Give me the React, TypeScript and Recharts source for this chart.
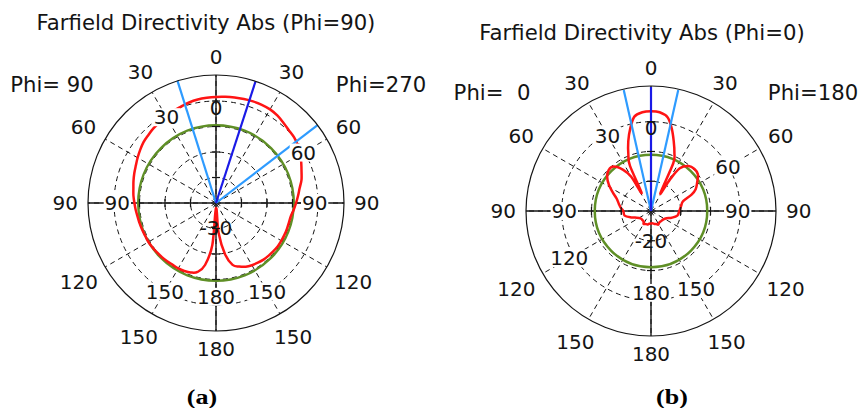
import React from "react"
import { RadarChart, Radar, PolarGrid, PolarAngleAxis, PolarRadiusAxis } from "recharts"

const FONT = "'DejaVu Sans', Verdana, sans-serif"
const INK = "#141414"
const RED = "#ff1414"
const GREEN = "#5f8f26"
const BLUE = "#1a1ae6"
const SKY = "#2e9bff"

// theta, measured clockwise from the top of each plot
const ANGLE_TICKS = [0, 30, 60, 90, 120, 150, 180, 210, 240, 270, 300, 330]
const AXIS_ANGLES = [0, 90, 180, 270]

// ---- (a) Phi=90 / Phi=270 cut ----
const THETA_A = [
  0, 5, 10, 15, 20, 25, 30, 35, 40, 45, 50, 55, 60, 65, 70, 75, 80, 85,
  90, 95, 100, 105, 110, 115, 120, 125, 130, 135, 140, 145, 150, 155, 160, 165, 170, 175,
  180, 185, 190, 195, 200, 205, 210, 215, 220, 225, 230, 235, 240, 245, 250, 255, 260, 265,
  270, 275, 280, 285, 290, 295, 300, 305, 310, 315, 320, 325, 330, 335, 340, 345, 350, 355,
]
const DIR_A = [
  1.6, 1.8, 2.0, 2.2, 2.4, 2.5, 2.4, 1.9, 1.1, 0.4, 0.0, -0.8, -1.8, -3.1, -4.3, -5.3, -6.7, -7.7,
  -8.6, -9.4, -10.2, -10.4, -10.4, -10.4, -10.4, -10.4, -10.6, -10.8, -11.0, -11.4, -11.8, -12.4, -13.5, -14.9, -19.6, -28.2,
  -38.0, -23.5, -15.3, -12.0, -11.0, -10.6, -10.4, -10.4, -10.2, -10.0, -9.8, -9.6, -9.4, -9.4, -9.2, -9.0, -8.8, -8.4,
  -8.0, -7.5, -7.1, -6.5, -5.9, -5.3, -4.5, -3.7, -2.9, -2.4, -1.8, -1.4, -0.8, -0.2, 0.2, 0.8, 1.2, 1.4,
]
const REF_A = -9.5
const MAIN_A = [18]
const BEAM_A = [342.5, 52.5]
const DOMAIN_A = [-40, 10.2]
const DB_TICKS_A = [-30, -20, -10, 0]
const DB_LABELS_A = [0, -30]
const INNER_A = [330, 60, 90, 150, 180, 210, 270]

// ---- (b) Phi=0 / Phi=180 cut ----
const THETA_B = [
  0, 5, 10, 14, 18, 22, 25, 28, 31, 34, 40, 46, 52, 58, 64, 68, 73, 80, 90, 100,
  108, 115, 124, 135, 145, 152, 158, 165, 172, 180, 188, 195, 202, 210, 215, 225, 235, 245, 252, 260,
  270, 276, 282, 290, 296, 302, 308, 314, 320, 326, 330, 332.5, 335, 338, 342, 346, 350, 355,
]
const DIR_B = [
  3.5, 3.3, 2.0, -1.3, -5.3, -9.0, -12.3, -23.3, -17.7, -12.7, -10.3, -9.7, -10.0, -11.7, -13.3, -15.3, -18.7, -19.7, -20.5, -21.0,
  -22.7, -24.3, -25.0, -25.2, -25.2, -24.8, -25.3, -25.5, -25.8, -25.8, -25.7, -25.3, -25.3, -25.0, -25.7, -25.8, -25.7, -24.7, -23.0, -21.0,
  -20.7, -19.8, -19.0, -17.7, -15.7, -13.3, -11.3, -10.2, -10.5, -13.3, -16.7, -23.2, -13.3, -9.7, -5.3, -1.3, 2.2, 3.3,
]
const REF_B = -11.1
const MAIN_B = [0]
const BEAM_B = [347.3, 12.7]
const DOMAIN_B = [-30, 11.67]
const DB_TICKS_B = [-20, -10, 0]
const DB_LABELS_B = [0, -20]
const INNER_B = [330, 60, 90, 150, 180, 240, 270]

function buildRows(theta: number[], dir: number[], ref: number, main: number[], beam: number[], top: number) {
  const rows: any[] = theta.map((ang, i) => ({ ang, dir: dir[i], ref }))
  main.forEach((ang) => rows.push({ ang, main: top }))
  beam.forEach((ang) => rows.push({ ang, beam: top }))
  return rows.sort((a, b) => a.ang - b.ang)
}

const valid = (pts: any[]) => (pts || []).filter((p) => p.value != null && Number.isFinite(p.x) && Number.isFinite(p.y))

function closedSpline(pts: { x: number; y: number }[]) {
  const n = pts.length
  if (n < 3) return ""
  let d = `M${pts[0].x},${pts[0].y}`
  for (let i = 0; i < n; i++) {
    const p0 = pts[(i - 1 + n) % n]
    const p1 = pts[i]
    const p2 = pts[(i + 1) % n]
    const p3 = pts[(i + 2) % n]
    const c1x = p1.x + (p2.x - p0.x) / 6
    const c1y = p1.y + (p2.y - p0.y) / 6
    const c2x = p2.x - (p3.x - p1.x) / 6
    const c2y = p2.y - (p3.y - p1.y) / 6
    d += ` C${c1x},${c1y} ${c2x},${c2y} ${p2.x},${p2.y}`
  }
  return d + " Z"
}

const curveShape = (color: string) => (props: any) => {
  const pts = valid(props.points).sort((a, b) => a.payload.ang - b.payload.ang)
  return <path d={closedSpline(pts)} fill="none" stroke={color} strokeWidth={2.5} strokeLinejoin="round" />
}

const circleShape = (color: string) => (props: any) => {
  const pts = valid(props.points)
  if (!pts.length) return <g />
  return <circle cx={pts[0].cx} cy={pts[0].cy} r={pts[0].radius} fill="none" stroke={color} strokeWidth={2.5} />
}

const rayShape = (color: string) => (props: any) => (
  <g>
    {valid(props.points).map((p, i) => (
      <line key={i} x1={p.cx} y1={p.cy} x2={p.x} y2={p.y} stroke={color} strokeWidth={2.2} />
    ))}
  </g>
)

const DIGIT_W = 12.7
const HALF_H = 7.8
const textStyle = { fontFamily: FONT, fontSize: 20, fill: INK }

function makeAngleTick(cx: number, cy: number, radius: number, domain: number[], inner: number[], dbLabels: number[]) {
  const rOf = (db: number) => (radius * (db - domain[0])) / (domain[1] - domain[0])
  return (props: any) => {
    const { x, y, payload } = props
    const a = payload.value
    const label = String(a <= 180 ? a : 360 - a)
    const d = Math.hypot(x - cx, y - cy) || 1
    const ux = (x - cx) / d
    const uy = (y - cy) / d
    const w = label.length * DIGIT_W
    // push the label box out so its nearest corner sits at the given radius
    const proj = Math.abs(ux) * (w / 2) + Math.abs(uy) * HALF_H
    const ox = x + ux * proj
    const oy = y + uy * proj
    const parts: React.ReactNode[] = [
      <text key="o" x={ox} y={oy} textAnchor="middle" dominantBaseline="central" {...textStyle}>{label}</text>,
    ]
    if (inner.includes(a)) {
      const ri = rOf(0) - 16 + proj
      const ix = cx + ux * ri
      const iy = cy + uy * ri
      parts.push(<rect key="b" x={ix - w / 2 - 1} y={iy - 9} width={w + 2} height={18} fill="#fff" />)
      parts.push(
        <text key="i" x={ix} y={iy} textAnchor="middle" dominantBaseline="central" {...textStyle}>{label}</text>
      )
    }
    if (a === 0) {
      parts.push(
        <text key="d0" x={cx} y={cy - rOf(dbLabels[0]) + 7} textAnchor="middle" dominantBaseline="central" {...textStyle}>{dbLabels[0]}</text>
      )
    }
    if (a === 180) {
      parts.push(
        <text key="d1" x={cx} y={cy + rOf(dbLabels[1])} textAnchor="middle" dominantBaseline="central" {...textStyle}>{dbLabels[1]}</text>
      )
    }
    return <g>{parts}</g>
  }
}

const makeCrossTick = (cx: number, cy: number) => (props: any) => {
  const d = props.x - cx
  if (!(d > 1)) return <g />
  return (
    <g stroke={INK} strokeWidth={1.2}>
      <line x1={cx + d} y1={cy - 4} x2={cx + d} y2={cy + 4} />
      <line x1={cx - d} y1={cy - 4} x2={cx - d} y2={cy + 4} />
      <line x1={cx - 4} y1={cy - d} x2={cx + 4} y2={cy - d} />
      <line x1={cx - 4} y1={cy + d} x2={cx + 4} y2={cy + d} />
    </g>
  )
}

function Panel(p: {
  rows: any[]; w: number; h: number; cx: number; cy: number; radius: number
  domain: number[]; dbTicks: number[]; inner: number[]; dbLabels: number[]
}) {
  return (
    <RadarChart
      width={p.w}
      height={p.h}
      cx={p.cx}
      cy={p.cy}
      outerRadius={p.radius}
      startAngle={90}
      endAngle={-270}
      data={p.rows}
      margin={{ top: 0, right: 0, bottom: 0, left: 0 }}
    >
      <PolarGrid gridType="circle" stroke={INK} strokeWidth={1} strokeDasharray="5 4" />
      <PolarGrid gridType="circle" polarAngles={AXIS_ANGLES.map((a) => 90 - a)} polarRadius={[]} stroke={INK} strokeWidth={1.4} />
      <PolarRadiusAxis
        type="number"
        domain={p.domain}
        allowDataOverflow
        ticks={p.dbTicks}
        angle={0}
        axisLine={false}
        tick={makeCrossTick(p.cx, p.cy)}
      />
      <PolarAngleAxis
        dataKey="ang"
        type="number"
        scale="linear"
        domain={[0, 360]}
        allowDataOverflow
        ticks={ANGLE_TICKS}
        tickLine={false}
        tickSize={10}
        axisLineType="circle"
        axisLine={{ stroke: INK, strokeWidth: 1.2 }}
        tick={makeAngleTick(p.cx, p.cy, p.radius, p.domain, p.inner, p.dbLabels)}
      />
      <Radar dataKey="ref" shape={circleShape(GREEN)} isAnimationActive={false} />
      <Radar dataKey="dir" shape={curveShape(RED)} isAnimationActive={false} />
      <Radar dataKey="beam" shape={rayShape(SKY)} isAnimationActive={false} />
      <Radar dataKey="main" shape={rayShape(BLUE)} isAnimationActive={false} />
    </RadarChart>
  )
}

function Text({ x, y, children, size = 21.2, style = {}, stretch = 1 }: any) {
  return (
    <div
      style={{
        position: "absolute",
        left: x,
        top: y,
        transform: `translate(-50%, -50%) scaleX(${stretch})`,
        fontFamily: FONT,
        fontSize: size,
        color: INK,
        whiteSpace: "pre",
        lineHeight: 1,
        ...style,
      }}
    >
      {children}
    </div>
  )
}

const CAPTION = { fontFamily: "'Liberation Serif', 'Times New Roman', serif", fontWeight: 700, color: "#000" }

export default function App() {
  const rowsA = buildRows(THETA_A, DIR_A, REF_A, MAIN_A, BEAM_A, DOMAIN_A[1])
  const rowsB = buildRows(THETA_B, DIR_B, REF_B, MAIN_B, BEAM_B, DOMAIN_B[1])
  return (
    <div style={{ position: "absolute", left: 0, top: 0, width: 859, height: 408, background: "#fff", overflow: "hidden" }}>
      <div style={{ position: "absolute", left: 0, top: 0 }}>
        <Panel rows={rowsA} w={430} h={370} cx={216} cy={203} radius={128} domain={DOMAIN_A} dbTicks={DB_TICKS_A} inner={INNER_A} dbLabels={DB_LABELS_A} />
      </div>
      <div style={{ position: "absolute", left: 430, top: 0 }}>
        <Panel rows={rowsB} w={429} h={370} cx={221} cy={211} radius={125} domain={DOMAIN_B} dbTicks={DB_TICKS_B} inner={INNER_B} dbLabels={DB_LABELS_B} />
      </div>
      <Text x={206} y={23}>Farfield Directivity Abs (Phi=90)</Text>
      <Text x={642} y={33}>Farfield Directivity Abs (Phi=0)</Text>
      <Text x={52} y={85}>Phi= 90</Text>
      <Text x={381} y={85}>Phi=270</Text>
      <Text x={492} y={93}>Phi=  0</Text>
      <Text x={813} y={93}>Phi=180</Text>
      <Text x={202} y={397} size={20} stretch={1.3} style={CAPTION}>(a)</Text>
      <Text x={672} y={397} size={20} stretch={1.3} style={CAPTION}>(b)</Text>
    </div>
  )
}
